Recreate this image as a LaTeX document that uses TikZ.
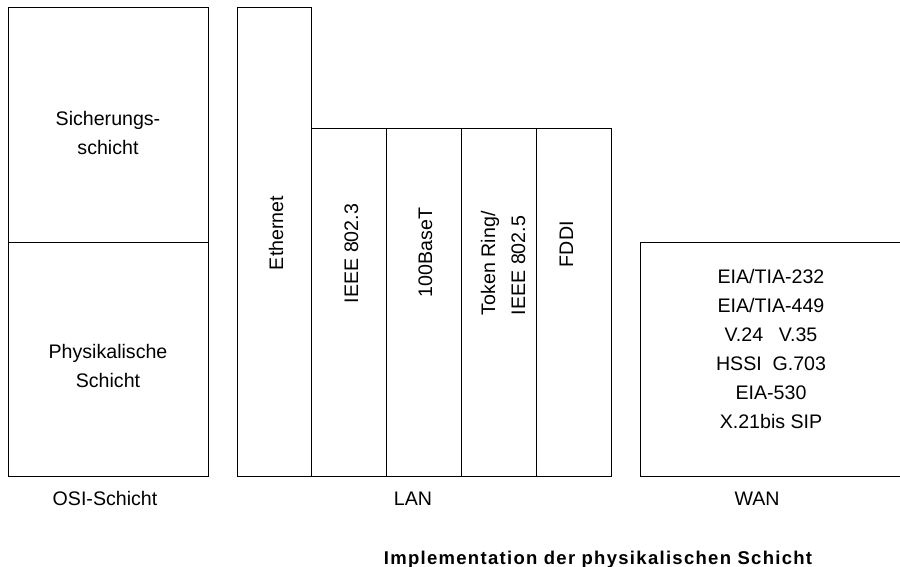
\documentclass[tikz,border=0pt]{standalone}
\usepackage{fontspec}
\setmainfont{Liberation Sans}
\begin{document}
\begin{tikzpicture}[x=1pt,y=-1pt,
  box/.style={draw, line width=1pt, inner sep=0pt, outer sep=0pt, anchor=north west},
  lbl/.style={font=\fontsize{19.6}{29}\selectfont, inner sep=0pt, outer sep=0pt, align=center, anchor=base},
  vlbl/.style={font=\fontsize{19.6}{30}\selectfont, inner sep=0pt, outer sep=0pt, rotate=90, anchor=base west, align=left},
  title/.style={font=\fontsize{18.5}{22}\selectfont\bfseries\addfontfeature{LetterSpace=7}, inner sep=0pt, anchor=base}
]
\useasboundingbox (0,0) rectangle (900,567);

% OSI layers (multi-line labels are anchored at the baseline of their last line)
\node[box, minimum width=200pt, minimum height=234pt] (sich) at (8,8) {};
\node[box, minimum width=200pt, minimum height=234pt] (phys) at (8,242) {};
\node[lbl] (sichT) at (108,155) {Sicherungs-\\schicht};
\node[lbl] (physT) at (108,387) {Physikalische\\Schicht};

% LAN implementations
\node[box, minimum width=74.5pt, minimum height=468pt] (eth) at (237,8) {};
\node[box, minimum width=75pt, minimum height=347pt] (ieee) at (311.5,129) {};
\node[box, minimum width=75pt, minimum height=347pt] (fast) at (386.5,129) {};
\node[box, minimum width=75pt, minimum height=347pt] (token) at (461.5,129) {};
\node[box, minimum width=75pt, minimum height=347pt] (fddi) at (536.5,129) {};
\node[vlbl] (ethT) at (283,270) {Ethernet};
\node[vlbl] (ieeeT) at (358,303) {IEEE 802.3};
\node[vlbl] (fastT) at (432,297) {100BaseT};
\node[vlbl] (tokenT) at (525,315) {Token Ring/\\IEEE 802.5};
\node[vlbl] (fddiT) at (573,267) {FDDI};

% WAN implementations
\node[box, minimum width=262pt, minimum height=233.5pt] (wan) at (640,242.5) {};
\node[lbl] (wanT) at (771,428) {EIA/TIA-232\\EIA/TIA-449\\V.24\hspace{0.8em}V.35\\HSSI\hspace{0.55em}G.703\\EIA-530\\X.21bis SIP};

% Column captions
\node[lbl] (osiC) at (105,505) {OSI-Schicht};
\node[lbl] (lanC) at (413,505) {LAN};
\node[lbl] (wanC) at (757,505) {WAN};

\node[title] (head) at (598,564) {Implementation der physikalischen Schicht};
\end{tikzpicture}
\end{document}
